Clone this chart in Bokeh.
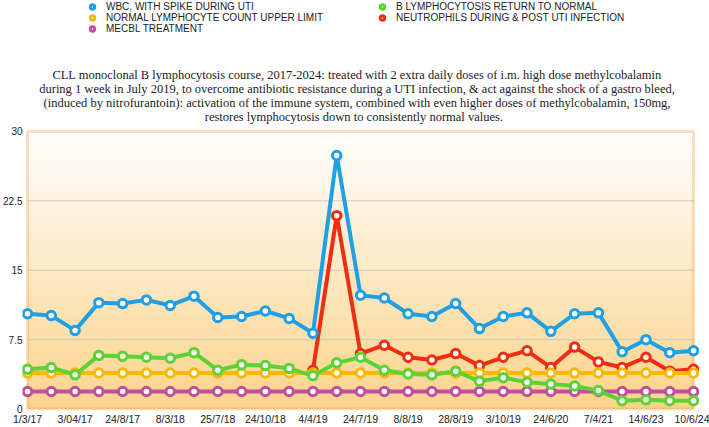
import numpy as np
from bokeh.plotting import figure
from bokeh.models import Range1d, FixedTicker, Legend, LegendItem, BoxAnnotation, Label
from bokeh.embed import file_html
from bokeh.resources import INLINE

# Visit dates shown on the axis (every second visit is labelled)
date_labels = ["1/3/17", "3/04/17", "24/8/17", "8/3/18", "25/7/18", "24/10/18", "4/4/19",
               "24/7/19", "8/8/19", "28/8/19", "3/10/19", "24/6/20", "7/4/21", "14/6/23", "10/6/24"]

# Counts per visit (x10^9/L)
wbc = [10.3, 10.1, 8.5, 11.5, 11.4, 11.8, 11.2, 12.2, 9.9, 10.0, 10.6, 9.8, 8.2, 27.4, 12.3,
       12.0, 10.3, 10.0, 11.4, 8.7, 10.0, 10.4, 8.4, 10.3, 10.4, 6.2, 7.5, 6.1, 6.3]
b_lymphocytes = [4.3, 4.5, 3.7, 5.8, 5.7, 5.6, 5.5, 6.1, 4.2, 4.8, 4.7, 4.4, 3.6, 5.0, 5.6,
                 4.2, 3.8, 3.7, 4.1, 3.0, 3.4, 2.9, 2.7, 2.5, 2.0, 0.9, 1.0, 0.9, 0.9]
normal_upper = [3.9, 3.9, 3.9, 3.9, 3.9, 3.9, 3.9, 3.9, 3.9, 3.9, 3.9, 3.9, 3.9, 3.9, 3.9,
                3.9, 3.9, 3.9, 3.9, 3.9, 3.9, 3.9, 3.9, 3.9, 3.9, 3.9, 3.9, 3.9, 3.9]
nan = float("nan")
neutrophils = [nan, nan, nan, nan, nan, nan, nan, nan, nan, nan, nan, nan, 4.2, 20.9, 6.0,
               6.9, 5.6, 5.3, 6.0, 4.7, 5.6, 6.3, 4.5, 6.7, 5.1, 4.5, 5.6, 4.1, 4.3]
mecbl = [1.9, 1.9, 1.9, 1.9, 1.9, 1.9, 1.9, 1.9, 1.9, 1.9, 1.9, 1.9, 1.9, 1.9, 1.9,
         1.9, 1.9, 1.9, 1.9, 1.9, 1.9, 1.9, 1.9, 1.9, 1.9, 1.9, 1.9, 1.9, 1.9]

y_ticks = [0, 7.5, 15, 22.5, 30]
y_tick_labels = ["0", "7.5", "15", "22.5", "30"]

title_lines = [
    "CLL monoclonal B lymphocytosis course, 2017-2024: treated with 2 extra daily doses of i.m. high dose methylcobalamin",
    "during 1 week in July 2019, to overcome antibiotic resistance during a UTI infection, & act against the shock of a gastro bleed,",
    "(induced by nitrofurantoin): activation of the immune system, combined with even higher doses of methylcobalamin, 150mg,",
    "restores lymphocytosis down to  consistently  normal values.",
]

n = len(wbc)
x = list(range(n))

BLUE = "#1e9fe6"
GREEN = "#5cd235"
YELLOW = "#f6b90a"
RED = "#ee2e12"
PURPLE = "#c04f9e"
FRAME = "#f1962a"

# The frame reaches the top of the canvas so the heading and legend can sit in it.
FRAME_H = 413                 # frame height in px (bottom axis takes the rest)
PX_PER_UNIT = 9.325           # vertical scale of the counts
Y_MIN = -0.15
Y_MAX = Y_MIN + FRAME_H / PX_PER_UNIT

def y_at(px_from_top):
    """Data y for a pixel row measured from the top of the frame."""
    return Y_MAX - px_from_top / PX_PER_UNIT

# small padding so the end markers and the frame line are not cut off
pad_l, pad_r = 0.21, 0.25

p = figure(width=709, height=427, output_backend="svg", toolbar_location=None,
           x_range=Range1d(-pad_l, n - 1 + pad_r), y_range=Range1d(Y_MIN, Y_MAX),
           min_border_left=0, min_border_right=10, min_border_top=0, min_border_bottom=14,
           background_fill_color="white", border_fill_color="white")
p.outline_line_color = None
p.grid.visible = False
p.title.visible = False

# vertical white-to-amber gradient behind the data
rows = 200
t = np.linspace(0, 1, rows)  # 0 = bottom, 1 = top
bottom_rgb = np.array([252, 212, 140])
top_rgb = np.array([255, 255, 255])
rgb = (bottom_rgb[None, :] * (1 - t[:, None]) + top_rgb[None, :] * t[:, None]).astype(np.uint32)
img = np.empty((rows, 1), dtype=np.uint32)
img[:, 0] = (255 << 24) | (rgb[:, 2] << 16) | (rgb[:, 1] << 8) | rgb[:, 0]
p.image_rgba(image=[img], x=0, y=0, dw=n - 1, dh=y_ticks[-1], level="image")

# horizontal grid lines inside the frame
inner = y_ticks[1:-1]
p.segment(x0=[0] * len(inner), x1=[n - 1] * len(inner), y0=inner, y1=inner,
          line_color="#c9c9c9", line_width=1, level="underlay")

p.add_layout(BoxAnnotation(left=0, right=n - 1, bottom=0, top=y_ticks[-1],
                           fill_alpha=0, line_color=FRAME, line_width=3, level="underlay"))

def series(vals, color):
    p.line(x, vals, line_color=color, line_width=4)
    return p.scatter(x, vals, size=8.5, fill_color="white", line_color=color, line_width=3)

r_mecbl = series(mecbl, PURPLE)
r_neut = series(neutrophils, RED)
r_norm = series(normal_upper, YELLOW)
r_blym = series(b_lymphocytes, GREEN)
r_wbc = series(wbc, BLUE)

# axes
p.xaxis.ticker = FixedTicker(ticks=x[::2])
p.xaxis.major_label_overrides = {i: lab for i, lab in zip(x[::2], date_labels)}
p.yaxis.ticker = FixedTicker(ticks=y_ticks)
p.yaxis.major_label_overrides = {v: lab for v, lab in zip(y_ticks, y_tick_labels)}
for ax in (p.xaxis[0], p.yaxis[0]):
    ax.axis_line_color = None
    ax.major_tick_line_color = None
    ax.minor_tick_line_color = None
    ax.major_tick_out = 0
    ax.major_tick_in = 0
    ax.minor_tick_out = 0
    ax.minor_tick_in = 0
    ax.major_label_text_font = "Liberation Sans"
    ax.major_label_text_color = "#222222"
p.xaxis.major_label_text_font_size = "10.5px"
p.yaxis.major_label_text_font_size = "10px"
p.xaxis.major_label_standoff = 2
p.yaxis.major_label_standoff = 0

# four centred heading lines
for k, line in enumerate(title_lines):
    p.add_layout(Label(x=(n - 1) / 2, y=y_at(75 + 14 * k), x_offset=-3.5, text=line,
                       text_align="center", text_baseline="middle",
                       text_font="Liberation Serif", text_font_size="12.5px",
                       text_color="#222222"))

ROW_H = 11.5

def make_legend(items, left_px):
    top_px = 2.5
    lg = Legend(items=items, location=(left_px, FRAME_H - top_px - ROW_H * len(items)),
                orientation="vertical", padding=0, margin=0, spacing=0,
                glyph_width=16, glyph_height=11, label_height=11, label_standoff=6,
                border_line_color=None, background_fill_alpha=0,
                label_text_font="Liberation Sans", label_text_font_size="10px",
                label_text_color="#222222")
    p.add_layout(lg, "center")
    return lg

make_legend([LegendItem(label="WBC, WITH SPIKE DURING UTI", renderers=[r_wbc]),
             LegendItem(label="NORMAL LYMPHOCYTE COUNT UPPER LIMIT", renderers=[r_norm]),
             LegendItem(label="MECBL TREATMENT", renderers=[r_mecbl])], 62)
make_legend([LegendItem(label="B LYMPHOCYTOSIS RETURN TO NORMAL", renderers=[r_blym]),
             LegendItem(label="NEUTROPHILS DURING & POST UTI INFECTION", renderers=[r_neut])], 352)

open("out.html", "w").write(file_html(p, INLINE))
